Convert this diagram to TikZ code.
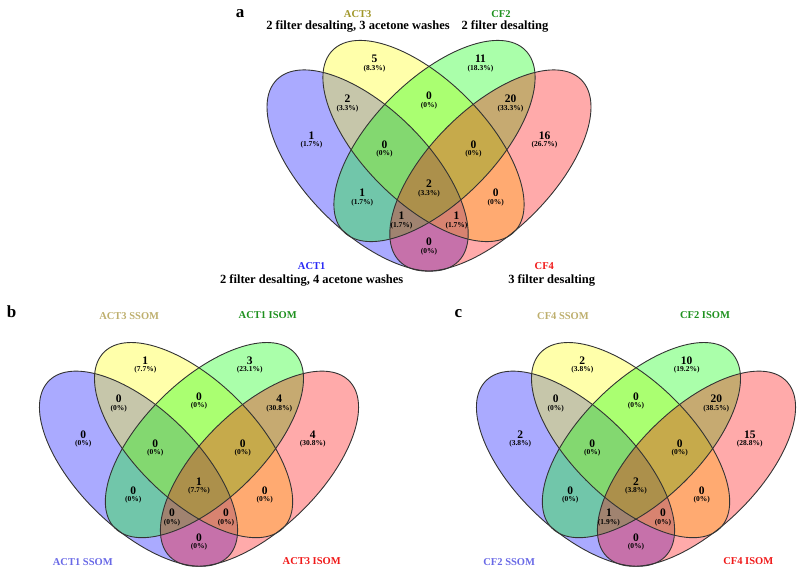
\documentclass[tikz,border=0pt]{standalone}
\usepackage{fontspec}
\setmainfont{Liberation Serif}
\definecolor{setblue}{RGB}{0,0,255}
\definecolor{setyellow}{RGB}{255,255,0}
\definecolor{setgreen}{RGB}{0,255,0}
\definecolor{setred}{RGB}{255,0,0}
\definecolor{nameblue}{RGB}{40,40,245}
\definecolor{nameblueb}{RGB}{105,105,230}
\definecolor{nameolive}{RGB}{160,150,40}
\definecolor{nameoliveb}{RGB}{190,175,110}
\definecolor{namegreen}{RGB}{30,145,30}
\definecolor{namered}{RGB}{240,25,25}
\tikzset{
  vset/.style={fill opacity=0.333},
  vline/.style={draw=black!80, line width=0.9pt},
  cnt/.style={font=\bfseries\fontsize{11.5}{12}\selectfont, inner sep=0pt},
  pct/.style={font=\bfseries\fontsize{7.5}{8}\selectfont, inner sep=0pt},
  panel/.style={font=\bfseries\fontsize{17}{18}\selectfont, inner sep=0pt},
  setname/.style={font=\bfseries\fontsize{10.5}{12}\selectfont, inner sep=0pt},
  desc/.style={font=\bfseries\fontsize{12.5}{14}\selectfont, inner sep=0pt},
}
% four eggs of one panel, centred on the symmetry axis
\newcommand{\vennsets}{
  \fill[setblue, vset] (-61.4,-26.5) ellipse [x radius=128.4, y radius=61.2, rotate=-45];
  \fill[setyellow, vset] (-5.5,3) ellipse [x radius=128.4, y radius=61.2, rotate=-45];
  \fill[setgreen, vset] (5.5,3) ellipse [x radius=128.4, y radius=61.2, rotate=45];
  \fill[setred, vset] (61.4,-26.5) ellipse [x radius=128.4, y radius=61.2, rotate=45];
  \draw[vline] (-61.4,-26.5) ellipse [x radius=128.4, y radius=61.2, rotate=-45];
  \draw[vline] (-5.5,3) ellipse [x radius=128.4, y radius=61.2, rotate=-45];
  \draw[vline] (5.5,3) ellipse [x radius=128.4, y radius=61.2, rotate=45];
  \draw[vline] (61.4,-26.5) ellipse [x radius=128.4, y radius=61.2, rotate=45];
}
% count and share of one region
\newcommand{\vlabel}[5]{
  \node[cnt] (#1) at (#2,#3+0.6) {#4};
  \node[pct] (#1p) at (#2,#3-9) {#5};
}

\begin{document}
\begin{tikzpicture}[x=1pt, y=1pt]
  \useasboundingbox (0,0) rectangle (800,-576);

  % panel a
  \node[panel] (lbla) at (240,-13.3) {a};
  \node[setname, text=nameolive] (act3) at (357.7,-14) {ACT3};
  \node[desc] (act3d) at (358,-26.5) {2 filter desalting, 3 acetone washes};
  \node[setname, text=namegreen] (cf2) at (501,-14) {CF2};
  \node[desc] (cf2d) at (505,-26.5) {2 filter desalting};
  \node[setname, text=nameblue] (act1) at (311.7,-265.7) {ACT1};
  \node[desc] (act1d) at (311.7,-280) {2 filter desalting, 4 acetone washes};
  \node[setname, text=namered] (cf4) at (544.3,-265.7) {CF4};
  \node[desc] (cf4d) at (551.7,-280) {3 filter desalting};
  \begin{scope}[shift={(429,-144)}]
    \vennsets
    \vlabel{a-y}{-54.5}{84.7}{5}{(8.3\%)}
    \vlabel{a-g}{51.5}{84.7}{11}{(18.3\%)}
    \vlabel{a-yg}{0}{47.3}{0}{(0\%)}
    \vlabel{a-by}{-81.5}{44.7}{2}{(3.3\%)}
    \vlabel{a-gr}{81.5}{44.7}{20}{(33.3\%)}
    \vlabel{a-b}{-117.5}{8}{1}{(1.7\%)}
    \vlabel{a-r}{115.5}{8}{16}{(26.7\%)}
    \vlabel{a-byg}{-44.5}{-1}{0}{(0\%)}
    \vlabel{a-ygr}{44.5}{-1}{0}{(0\%)}
    \vlabel{a-bg}{-66.8}{-49.3}{1}{(1.7\%)}
    \vlabel{a-yr}{66.8}{-49.3}{0}{(0\%)}
    \vlabel{a-all}{0}{-40.3}{2}{(3.3\%)}
    \vlabel{a-bgr}{-27.5}{-72.7}{1}{(1.7\%)}
    \vlabel{a-byr}{27.5}{-72.7}{1}{(1.7\%)}
    \vlabel{a-br}{0}{-98.3}{0}{(0\%)}
  \end{scope}

  % panel b
  \node[panel] (lblb) at (11.7,-311.7) {b};
  \node[setname, text=nameoliveb] (act3s) at (129.2,-316) {ACT3 SSOM};
  \node[setname, text=namegreen] (act1i) at (267.7,-315) {ACT1 ISOM};
  \node[setname, text=nameblueb] (act1s) at (82.8,-561.7) {ACT1 SSOM};
  \node[setname, text=namered] (act3i) at (311.7,-561) {ACT3 ISOM};
  \begin{scope}[shift={(199,-443)}, xscale=0.985, yscale=0.97]
    \vennsets
    \vlabel{b-y}{-54.5}{84.7}{1}{(7.7\%)}
    \vlabel{b-g}{51.5}{84.7}{3}{(23.1\%)}
    \vlabel{b-yg}{0}{47.3}{0}{(0\%)}
    \vlabel{b-by}{-81.5}{44.7}{0}{(0\%)}
    \vlabel{b-gr}{81.5}{44.7}{4}{(30.8\%)}
    \vlabel{b-b}{-117.5}{8}{0}{(0\%)}
    \vlabel{b-r}{115.5}{8}{4}{(30.8\%)}
    \vlabel{b-byg}{-44.5}{-1}{0}{(0\%)}
    \vlabel{b-ygr}{44.5}{-1}{0}{(0\%)}
    \vlabel{b-bg}{-66.8}{-49.3}{0}{(0\%)}
    \vlabel{b-yr}{66.8}{-49.3}{0}{(0\%)}
    \vlabel{b-all}{0}{-40.3}{1}{(7.7\%)}
    \vlabel{b-bgr}{-27.5}{-72.7}{0}{(0\%)}
    \vlabel{b-byr}{27.5}{-72.7}{0}{(0\%)}
    \vlabel{b-br}{0}{-98.3}{0}{(0\%)}
  \end{scope}

  % panel c
  \node[panel] (lblc) at (458.3,-314) {c};
  \node[setname, text=nameoliveb] (cf4s) at (563,-316) {CF4 SSOM};
  \node[setname, text=namegreen] (cf2i) at (705,-315) {CF2 ISOM};
  \node[setname, text=nameblueb] (cf2s) at (509.2,-561.7) {CF2 SSOM};
  \node[setname, text=namered] (cf4i) at (748.3,-561) {CF4 ISOM};
  \begin{scope}[shift={(636,-443)}, xscale=0.985, yscale=0.97]
    \vennsets
    \vlabel{c-y}{-54.5}{84.7}{2}{(3.8\%)}
    \vlabel{c-g}{51.5}{84.7}{10}{(19.2\%)}
    \vlabel{c-yg}{0}{47.3}{0}{(0\%)}
    \vlabel{c-by}{-81.5}{44.7}{0}{(0\%)}
    \vlabel{c-gr}{81.5}{44.7}{20}{(38.5\%)}
    \vlabel{c-b}{-117.5}{8}{2}{(3.8\%)}
    \vlabel{c-r}{115.5}{8}{15}{(28.8\%)}
    \vlabel{c-byg}{-44.5}{-1}{0}{(0\%)}
    \vlabel{c-ygr}{44.5}{-1}{0}{(0\%)}
    \vlabel{c-bg}{-66.8}{-49.3}{0}{(0\%)}
    \vlabel{c-yr}{66.8}{-49.3}{0}{(0\%)}
    \vlabel{c-all}{0}{-40.3}{2}{(3.8\%)}
    \vlabel{c-bgr}{-27.5}{-72.7}{1}{(1.9\%)}
    \vlabel{c-byr}{27.5}{-72.7}{0}{(0\%)}
    \vlabel{c-br}{0}{-98.3}{0}{(0\%)}
  \end{scope}
\end{tikzpicture}
\end{document}
